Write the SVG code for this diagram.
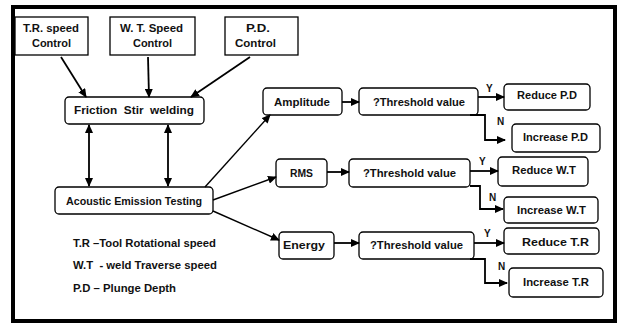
<svg xmlns="http://www.w3.org/2000/svg" width="618" height="324" viewBox="0 0 618 324">
<style>
.box{fill:#fff;stroke:#000;stroke-width:1.3}
.t{font-family:"Liberation Sans",Arial,sans-serif;font-weight:bold;font-size:10.5px;fill:#111}
.s{font-size:10px}
.c{fill:none;stroke:#000;stroke-width:1.8}
.c2{fill:none;stroke:#000;stroke-width:1.4}
</style>
<defs>
<marker id="ah" markerUnits="userSpaceOnUse" markerWidth="9" markerHeight="8" refX="8" refY="4" orient="auto">
<path d="M0,0 L9,4 L0,8 Z" fill="#000"/>
</marker>
<marker id="as" markerUnits="userSpaceOnUse" markerWidth="9" markerHeight="8" refX="1" refY="4" orient="auto">
<path d="M9,0 L0,4 L9,8 Z" fill="#000"/>
</marker>
</defs>
<rect x="13" y="7" width="602" height="314" fill="#fff" stroke="#000" stroke-width="4"/>

<g id="tr-control"><rect class="box" x="15" y="17" width="73" height="38"/>
<text class="t" x="23" y="32" textLength="56" lengthAdjust="spacingAndGlyphs">T.R. speed</text>
<text class="t" x="32" y="47" textLength="39" lengthAdjust="spacingAndGlyphs">Control</text></g>
<g id="wt-control"><rect class="box" x="110" y="17" width="85" height="38"/>
<text class="t" x="120" y="32" textLength="63" lengthAdjust="spacingAndGlyphs">W. T. Speed</text>
<text class="t" x="133" y="47" textLength="39" lengthAdjust="spacingAndGlyphs">Control</text></g>
<g id="pd-control"><rect class="box" x="225" y="17" width="73" height="38"/>
<text class="t" x="246" y="32" textLength="24" lengthAdjust="spacingAndGlyphs">P.D.</text>
<text class="t" x="235" y="47" textLength="41" lengthAdjust="spacingAndGlyphs">Control</text></g>

<g id="fsw"><rect class="box" x="65" y="97" width="139" height="27" rx="4"/>
<text class="t" x="74" y="114" textLength="120" lengthAdjust="spacingAndGlyphs" xml:space="preserve">Friction  Stir  welding</text></g>
<g id="aet"><rect class="box" x="55" y="187" width="158" height="27" rx="4"/>
<text class="t" x="66" y="205" textLength="136" lengthAdjust="spacingAndGlyphs">Acoustic Emission Testing</text></g>

<g id="amplitude"><rect class="box" x="263" y="88" width="79" height="27" rx="4"/>
<text class="t" x="274" y="106" textLength="56" lengthAdjust="spacingAndGlyphs">Amplitude</text></g>
<g id="rms"><rect class="box" x="276" y="159" width="51" height="28" rx="4"/>
<text class="t" x="290" y="177" textLength="23" lengthAdjust="spacingAndGlyphs">RMS</text></g>
<g id="energy"><rect class="box" x="279" y="232" width="55" height="27" rx="4"/>
<text class="t" x="283" y="249" textLength="42" lengthAdjust="spacingAndGlyphs">Energy</text></g>

<g id="th1"><rect class="box" x="359" y="88" width="119" height="27" rx="4"/>
<text class="t" x="373" y="106" textLength="92" lengthAdjust="spacingAndGlyphs">?Threshold value</text></g>
<g id="th2"><rect class="box" x="349" y="159" width="121" height="28" rx="4"/>
<text class="t" x="363" y="177" textLength="93" lengthAdjust="spacingAndGlyphs">?Threshold value</text></g>
<g id="th3"><rect class="box" x="359" y="232" width="115" height="27" rx="4"/>
<text class="t" x="370" y="249" textLength="93" lengthAdjust="spacingAndGlyphs">?Threshold value</text></g>

<g id="reduce-pd"><rect class="box" x="504" y="84" width="86" height="26" rx="4"/>
<text class="t" x="517" y="99" textLength="60" lengthAdjust="spacingAndGlyphs">Reduce P.D</text></g>
<g id="increase-pd"><rect class="box" x="512" y="124" width="88" height="28" rx="4"/>
<text class="t" x="523" y="141" textLength="65" lengthAdjust="spacingAndGlyphs">Increase P.D</text></g>
<g id="reduce-wt"><rect class="box" x="498" y="157" width="90" height="29" rx="4"/>
<text class="t" x="512" y="174" textLength="64" lengthAdjust="spacingAndGlyphs">Reduce W.T</text></g>
<g id="increase-wt"><rect class="box" x="504" y="197" width="94" height="26" rx="4"/>
<text class="t" x="517" y="214" textLength="69" lengthAdjust="spacingAndGlyphs">Increase W.T</text></g>
<g id="reduce-tr"><rect class="box" x="504" y="228" width="95" height="26" rx="4"/>
<text class="t" x="522" y="246" textLength="67" lengthAdjust="spacingAndGlyphs">Reduce T.R</text></g>
<g id="increase-tr"><rect class="box" x="509" y="268" width="94" height="29" rx="4"/>
<text class="t" x="523" y="286" textLength="66" lengthAdjust="spacingAndGlyphs">Increase T.R</text></g>

<g id="connectors">
<line class="c" x1="61" y1="57" x2="86" y2="97" marker-end="url(#ah)"/>
<line class="c" x1="148" y1="57" x2="149" y2="97" marker-end="url(#ah)"/>
<line class="c" x1="250" y1="57" x2="191" y2="97" marker-end="url(#ah)"/>
<line class="c" x1="89" y1="125" x2="89" y2="186" marker-start="url(#as)" marker-end="url(#ah)"/>
<line class="c" x1="168" y1="125" x2="168" y2="186" marker-start="url(#as)" marker-end="url(#ah)"/>
<line class="c2" x1="205" y1="187" x2="270" y2="115" marker-end="url(#ah)"/>
<line class="c2" x1="213" y1="200" x2="276" y2="177" marker-end="url(#ah)"/>
<line class="c2" x1="213" y1="211" x2="279" y2="240" marker-end="url(#ah)"/>
<line class="c" x1="342" y1="102" x2="359" y2="102" marker-end="url(#ah)"/>
<line class="c" x1="327" y1="172" x2="349" y2="172" marker-end="url(#ah)"/>
<line class="c" x1="334" y1="243" x2="359" y2="243" marker-end="url(#ah)"/>
<line class="c" x1="478" y1="97" x2="504" y2="97" marker-end="url(#ah)"/>
<line class="c" x1="470" y1="171" x2="498" y2="171" marker-end="url(#ah)"/>
<line class="c" x1="474" y1="243" x2="504" y2="243" marker-end="url(#ah)"/>
<polyline class="c" points="470,115 485,115 485,140 505,140" marker-end="url(#ah)"/>
<polyline class="c" points="470,186 480,186 480,209 503,209" marker-end="url(#ah)"/>
<polyline class="c" points="470,259 485,259 485,283 507,283" marker-end="url(#ah)"/>
<text class="t s" x="486" y="92">Y</text>
<text class="t s" x="497" y="125">N</text>
<text class="t s" x="479" y="165">Y</text>
<text class="t s" x="489" y="201">N</text>
<text class="t s" x="484" y="237">Y</text>
<text class="t s" x="498" y="270">N</text>
</g>

<g id="legend">
<text class="t" x="73" y="247" textLength="143" lengthAdjust="spacingAndGlyphs">T.R –Tool Rotational speed</text>
<text class="t" x="73" y="269" textLength="144" lengthAdjust="spacingAndGlyphs" xml:space="preserve">W.T  - weld Traverse speed</text>
<text class="t" x="73" y="292" textLength="103" lengthAdjust="spacingAndGlyphs">P.D – Plunge Depth</text>
</g>
</svg>
